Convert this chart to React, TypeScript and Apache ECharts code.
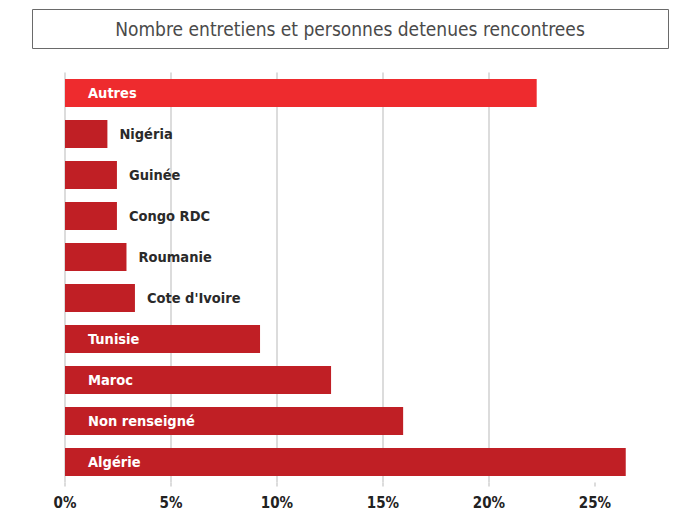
import React, { useEffect, useRef } from "react";
import * as echarts from "echarts";

const categories = ["Autres", "Nigéria", "Guinée", "Congo RDC", "Roumanie", "Cote d'Ivoire", "Tunisie", "Maroc", "Non renseigné", "Algérie"];
const values = [22.25, 2.0, 2.45, 2.45, 2.9, 3.3, 9.2, 12.55, 15.95, 26.45];
const insideLabel = [true, false, false, false, false, false, true, true, true, true];
const barColors = ["#ee2b2e", "#c01f25", "#c01f25", "#c01f25", "#c01f25", "#c01f25", "#c01f25", "#c01f25", "#c01f25", "#c01f25"];
const tickValues = [0, 5, 10, 15, 20, 25];
const tickLabels = ["0%", "5%", "10%", "15%", "20%", "25%"];
const title = "Nombre entretiens et personnes detenues rencontrees";

const FONT = "'DejaVu Sans Condensed', 'Liberation Sans Narrow', 'Roboto', sans-serif";

export default function App() {
  const ref = useRef<HTMLDivElement>(null);
  useEffect(() => {
    if (!ref.current) return;
    const chart = echarts.init(ref.current, null, { renderer: "svg" });
    const data = values.map((v, i) => ({
      value: v,
      itemStyle: { color: barColors[i] },
      label: insideLabel[i]
        ? { show: true, position: [23, "50%"], verticalAlign: "middle", color: "#ffffff", fontFamily: FONT, fontWeight: "bold", fontSize: 14.5, formatter: categories[i] }
        : { show: true, position: "right", distance: 12, color: "#2a2a2a", fontFamily: FONT, fontWeight: "bold", fontSize: 14.5, formatter: categories[i] },
    }));
    chart.setOption({
      animation: false,
      backgroundColor: "#ffffff",
      graphic: [
        {
          type: "rect",
          shape: { x: 32.5, y: 9.5, width: 636, height: 39 },
          style: { fill: "#ffffff", stroke: "#6a6a6a", lineWidth: 1 },
        },
        {
          type: "text",
          x: 350,
          y: 29,
          style: { text: title, fill: "#4a4a4a", font: `19px ${FONT}`, textAlign: "center", textVerticalAlign: "middle" },
        },
      ],
      grid: { left: 65, top: 72.5, width: 572.4, height: 410, containLabel: false },
      xAxis: {
        type: "value",
        min: 0,
        max: 27,
        interval: 5,
        axisLine: { show: false },
        axisTick: { show: true, length: 4, customValues: tickValues, lineStyle: { color: "#dcdcdc", width: 2 } },
        splitLine: { show: true, showMaxLine: false, lineStyle: { color: "#dcdcdc", width: 2 } },
        axisLabel: {
          color: "#222222",
          fontFamily: FONT,
          fontWeight: "bold",
          fontSize: 15,
          margin: 13,
          customValues: tickValues,
          formatter: (v: number) => tickLabels[tickValues.indexOf(v)] ?? "",
        },
      },
      yAxis: {
        type: "category",
        inverse: true,
        data: categories,
        axisLine: { show: false },
        axisTick: { show: false },
        axisLabel: { show: false },
      },
      series: [
        {
          type: "bar",
          data,
          barWidth: 28,
          silent: true,
        },
      ],
    });
    return () => chart.dispose();
  }, []);
  return <div ref={ref} style={{ width: 677, height: 514, position: "absolute", left: 0, top: 0 }} />;
}
